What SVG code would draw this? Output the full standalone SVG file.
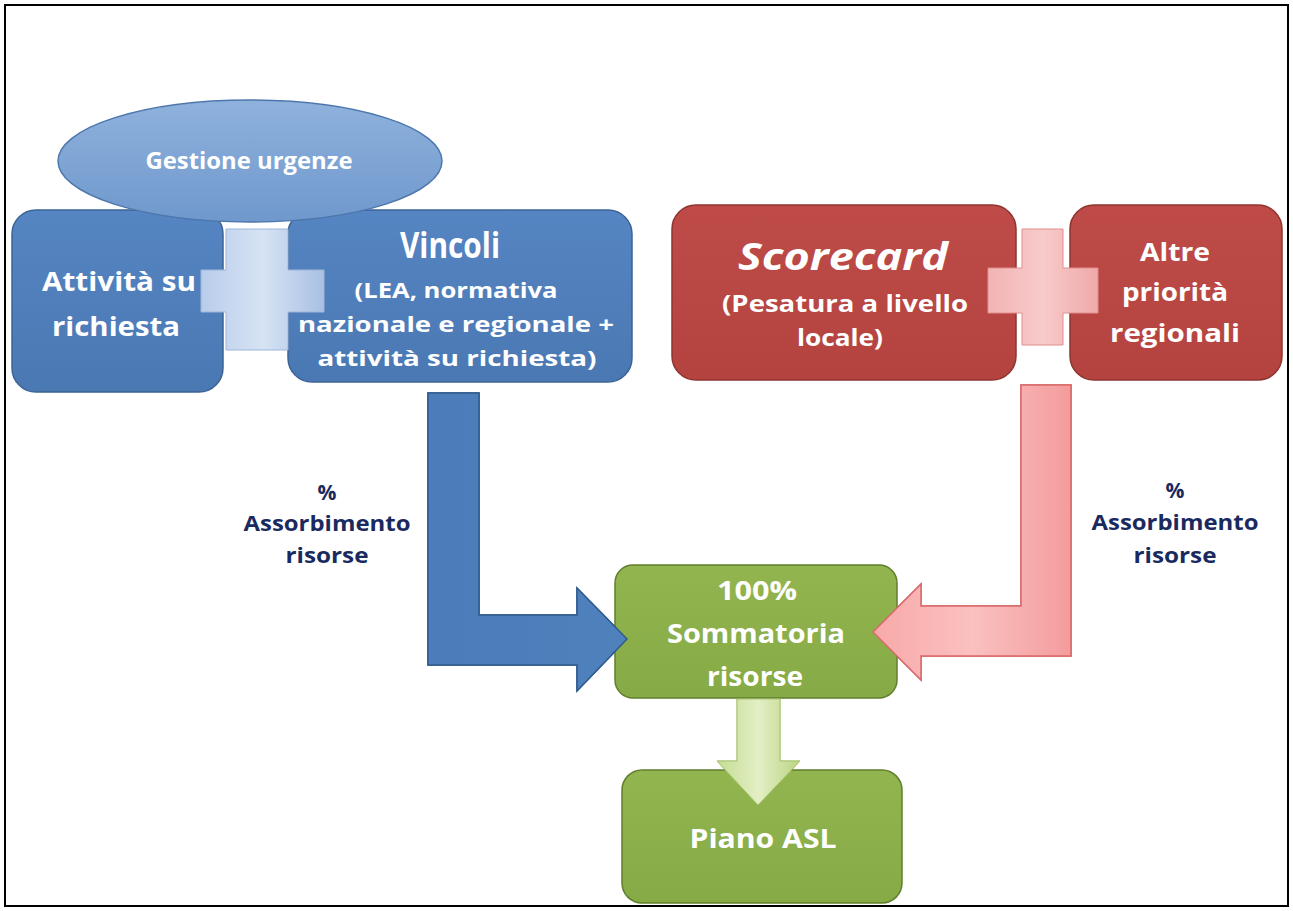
<svg xmlns="http://www.w3.org/2000/svg" width="1293" height="911" viewBox="0 0 1293 911">
<defs>
<linearGradient id="gBlueBox" x1="0" y1="0" x2="0" y2="1"><stop offset="0" stop-color="#5585C2"/><stop offset="1" stop-color="#4A78B3"/></linearGradient>
<linearGradient id="gEll" x1="0" y1="0" x2="0" y2="1"><stop offset="0" stop-color="#8FB2DD"/><stop offset="1" stop-color="#6F98CC"/></linearGradient>
<linearGradient id="gBluePlus" x1="0" y1="0" x2="1" y2="0"><stop offset="0" stop-color="#B8CCEA"/><stop offset="0.5" stop-color="#D6E3F4"/><stop offset="1" stop-color="#A9C0E3"/></linearGradient>
<linearGradient id="gRedBox" x1="0" y1="0" x2="0" y2="1"><stop offset="0" stop-color="#BE4B48"/><stop offset="1" stop-color="#B44340"/></linearGradient>
<linearGradient id="gPinkPlus" x1="0" y1="0" x2="1" y2="0"><stop offset="0" stop-color="#F2B4B4"/><stop offset="0.5" stop-color="#F8CACA"/><stop offset="1" stop-color="#EFA9A9"/></linearGradient>
<linearGradient id="gPinkArrow" x1="0" y1="0" x2="1" y2="0"><stop offset="0" stop-color="#F8A9A9"/><stop offset="0.5" stop-color="#FBC0C0"/><stop offset="1" stop-color="#F39C9C"/></linearGradient>
<linearGradient id="gGreen" x1="0" y1="0" x2="0" y2="1"><stop offset="0" stop-color="#92B550"/><stop offset="1" stop-color="#86AA45"/></linearGradient>
<linearGradient id="gGreenArrow" x1="0" y1="0" x2="1" y2="0"><stop offset="0" stop-color="#C5DC94"/><stop offset="0.5" stop-color="#E2EFC4"/><stop offset="1" stop-color="#BBD584"/></linearGradient>
<linearGradient id="gBlueArrow" x1="0" y1="0" x2="1" y2="0"><stop offset="0" stop-color="#4C7CBA"/><stop offset="1" stop-color="#4F81BD"/></linearGradient>
</defs>
<style>
.t{font-family:"Open Sans","Liberation Sans",sans-serif;font-weight:bold;text-anchor:middle;fill:#FFFFFF}
.lbl{font-family:"Open Sans","Liberation Sans",sans-serif;font-weight:bold;text-anchor:middle;fill:#1A2A5E;font-size:21px}
.blue{fill:url(#gBlueBox);stroke:#3D6497;stroke-width:1.5}
.red{fill:url(#gRedBox);stroke:#8E3431;stroke-width:1.5}
.green{fill:url(#gGreen);stroke:#5F7F2C;stroke-width:1.5}
</style>
<rect x="0" y="0" width="1293" height="911" fill="#FFFFFF"/>
<rect x="5" y="5" width="1283" height="901" fill="none" stroke="#000000" stroke-width="2"/>

<g id="connectors">
<path id="arrow-blue" d="M428,393 H479 V615 H577 V588 L627,639 L577,691 V665 H428 Z" fill="url(#gBlueArrow)" stroke="#2F5B8E" stroke-width="1.5"/>
<path id="arrow-pink" d="M1071,385 H1021 V606 H921 V584 L873,632 L921,680 V656 H1071 Z" fill="url(#gPinkArrow)" stroke="#D9696A" stroke-width="1.5"/>
<path id="arrow-green" d="M737,699 H780 V761 H800 L758,805 L717,761 H737 Z" fill="url(#gGreenArrow)" stroke="#A9C572" stroke-width="1"/>
</g>

<g id="node-attivita">
<rect class="blue" x="12" y="210" width="211" height="182" rx="24"/>
<text class="t" x="119" y="291" font-size="27" textLength="154" lengthAdjust="spacingAndGlyphs">Attività  su</text>
<text class="t" x="116" y="336" font-size="27" textLength="128" lengthAdjust="spacingAndGlyphs">richiesta</text>
</g>

<g id="node-vincoli">
<rect class="blue" x="288" y="210" width="344" height="172" rx="24"/>
<text class="t" x="450" y="258" font-size="36" textLength="100" lengthAdjust="spacingAndGlyphs">Vincoli</text>
<text class="t" x="456" y="298" font-size="22" textLength="203" lengthAdjust="spacingAndGlyphs">(LEA,  normativa</text>
<text class="t" x="456" y="332" font-size="22" textLength="316" lengthAdjust="spacingAndGlyphs">nazionale  e regionale +</text>
<text class="t" x="457" y="366" font-size="22" textLength="279" lengthAdjust="spacingAndGlyphs">attività su richiesta)</text>
</g>

<g id="node-gestione">
<ellipse cx="250" cy="161" rx="192" ry="61" fill="url(#gEll)" stroke="#4D77AC" stroke-width="1.5"/>
<text class="t" x="249" y="169" font-size="23" fill="#F2F5FA" textLength="207" lengthAdjust="spacingAndGlyphs">Gestione urgenze</text>
</g>

<g id="plus-blue">
<path d="M226,229 H288 V270 H324 V312 H288 V350 H226 V312 H201 V270 H226 Z" fill="url(#gBluePlus)" stroke="#9DB6DA" stroke-width="1"/>
</g>

<g id="node-scorecard">
<rect class="red" x="672" y="205" width="344" height="175" rx="24"/>
<text class="t" x="843" y="270" font-size="38" font-style="italic" textLength="210" lengthAdjust="spacingAndGlyphs">Scorecard</text>
<text class="t" x="845" y="312" font-size="23" textLength="246" lengthAdjust="spacingAndGlyphs">(Pesatura a livello</text>
<text class="t" x="840" y="346" font-size="23" textLength="86" lengthAdjust="spacingAndGlyphs">locale)</text>
</g>

<g id="node-altre">
<rect class="red" x="1070" y="205" width="212" height="175" rx="24"/>
<text class="t" x="1175" y="261" font-size="25" textLength="70" lengthAdjust="spacingAndGlyphs">Altre</text>
<text class="t" x="1175" y="301" font-size="25" textLength="106" lengthAdjust="spacingAndGlyphs">priorità</text>
<text class="t" x="1175" y="342" font-size="25" textLength="130" lengthAdjust="spacingAndGlyphs">regionali</text>
</g>

<g id="plus-pink">
<path d="M1022,229 H1063 V268 H1098 V313 H1063 V345 H1022 V313 H988 V268 H1022 Z" fill="url(#gPinkPlus)" stroke="#E08E8E" stroke-width="1"/>
</g>

<g id="label-left">
<text class="lbl" x="327" y="500">%</text>
<text class="lbl" x="327" y="531" textLength="167" lengthAdjust="spacingAndGlyphs">Assorbimento</text>
<text class="lbl" x="327" y="563" textLength="83" lengthAdjust="spacingAndGlyphs">risorse</text>
</g>

<g id="label-right">
<text class="lbl" x="1175" y="498">%</text>
<text class="lbl" x="1175" y="530" textLength="167" lengthAdjust="spacingAndGlyphs">Assorbimento</text>
<text class="lbl" x="1175" y="563" textLength="83" lengthAdjust="spacingAndGlyphs">risorse</text>
</g>

<g id="node-sommatoria">
<rect class="green" x="615" y="565" width="282" height="133" rx="18"/>
<text class="t" x="757" y="600" font-size="27" textLength="80" lengthAdjust="spacingAndGlyphs">100%</text>
<text class="t" x="756" y="643" font-size="27" textLength="178" lengthAdjust="spacingAndGlyphs">Sommatoria</text>
<text class="t" x="755" y="686" font-size="27" textLength="96" lengthAdjust="spacingAndGlyphs">risorse</text>
</g>

<use href="#arrow-blue"/>
<use href="#arrow-pink"/>

<g id="node-piano">
<rect class="green" x="622" y="770" width="280" height="133" rx="20"/>
<text class="t" x="763" y="848" font-size="27" textLength="147" lengthAdjust="spacingAndGlyphs">Piano  ASL</text>
</g>
<use href="#arrow-green"/>
</svg>
